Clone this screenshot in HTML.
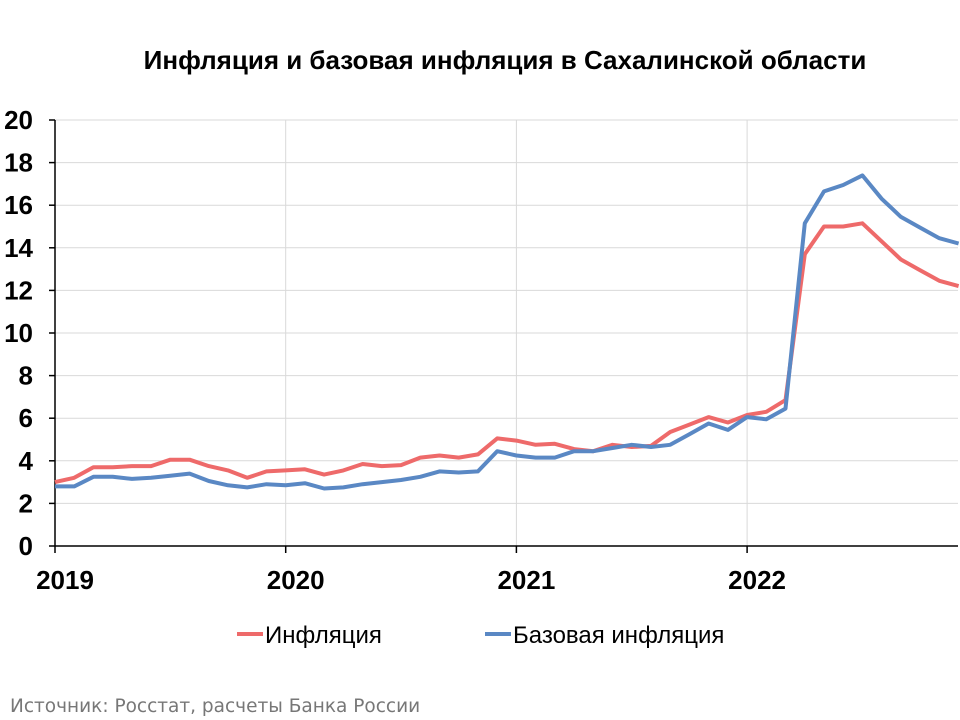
<!DOCTYPE html>
<html><head><meta charset="utf-8"><style>
body{margin:0;background:#fff;}
svg{display:block;font-family:"Liberation Sans",sans-serif;}
</style></head><body>
<svg id="chart" width="960" height="720">
<text x="505" y="69" text-anchor="middle" font-size="26" font-weight="bold">Инфляция и базовая инфляция в Сахалинской области</text>
<g id="grid"></g><g id="axes"></g><g id="series"></g>
<g>
<line x1="237" y1="634" x2="263" y2="634" stroke="#ee6a6a" stroke-width="4"/>
<text x="265" y="643" font-size="24">Инфляция</text>
<line x1="485" y1="634" x2="511" y2="634" stroke="#5a88c4" stroke-width="4"/>
<text x="513" y="643" font-size="24">Базовая инфляция</text>
</g>
<text x="10" y="712" font-size="18.5" fill="#777" font-family="DejaVu Sans, sans-serif">Источник: Росстат, расчеты Банка России</text>
</svg>
<script>
const years = ["2019","2020","2021","2022"];
const yTicks = [0,2,4,6,8,10,12,14,16,18,20];
const inflation = [3.0,3.2,3.7,3.7,3.75,3.75,4.05,4.05,3.75,3.55,3.2,3.5,3.55,3.6,3.35,3.55,3.85,3.75,3.8,4.15,4.25,4.15,4.3,5.05,4.95,4.75,4.8,4.55,4.45,4.75,4.65,4.7,5.35,5.7,6.05,5.8,6.15,6.3,6.85,13.7,15.0,15.0,15.15,14.3,13.45,12.95,12.45,12.2];
const coreInflation = [2.8,2.8,3.25,3.25,3.15,3.2,3.3,3.4,3.05,2.85,2.75,2.9,2.85,2.95,2.7,2.75,2.9,3.0,3.1,3.25,3.5,3.45,3.5,4.45,4.25,4.15,4.15,4.45,4.45,4.6,4.75,4.65,4.75,5.25,5.75,5.45,6.05,5.95,6.45,15.15,16.65,16.95,17.4,16.3,15.45,14.95,14.45,14.2];

const NS="http://www.w3.org/2000/svg";
const X0=55, MONTH=230.7/12, Y0=546, YMAX=20, YTOP=120;
const xm = i => X0 + i*MONTH;
const y = v => Y0 - (v/YMAX)*(Y0-YTOP);
function mk(tag, attrs, parent){const e=document.createElementNS(NS,tag);for(const k in attrs)e.setAttribute(k,attrs[k]);parent.appendChild(e);return e;}
const grid=document.getElementById('grid'), axes=document.getElementById('axes'), series=document.getElementById('series');
yTicks.forEach(t=>{
  if(t>0){const g=mk('line',{x1:X0,x2:958,y1:y(t),y2:y(t),stroke:'#d9d9d9','stroke-width':1},grid);
  
  }
  const tk=mk('line',{x1:X0-6,x2:X0,y1:y(t),y2:y(t),stroke:'#000','stroke-width':1.5},axes);
  
  
  const l=mk('text',{x:33,y:y(t)+9,'text-anchor':'end','font-size':26,'font-weight':'bold'},axes);
  l.textContent=t;
  
  
});
years.forEach((yr,i)=>{
  const xx=xm(i*12);
  if(i>0){const g=mk('line',{x1:xx,x2:xx,y1:YTOP,y2:Y0,stroke:'#d9d9d9','stroke-width':1},grid);
  
  }
  const tk=mk('line',{x1:xx,x2:xx,y1:Y0,y2:Y0+7,stroke:'#000','stroke-width':1.5},axes);
  
  
  const l=mk('text',{x:xx+10,y:589,'text-anchor':'middle','font-size':26,'font-weight':'bold'},axes);
  l.textContent=yr;
  
  
});
const ya=mk('line',{x1:X0,x2:X0,y1:YTOP,y2:Y0,stroke:'#000','stroke-width':1.5},axes);


const xa=mk('line',{x1:X0,x2:958,y1:Y0,y2:Y0,stroke:'#000','stroke-width':1.5},axes);


function draw(arr,color,name){
  const p=mk('polyline',{points:arr.map((v,i)=>xm(i).toFixed(1)+','+y(v).toFixed(1)).join(' '),fill:'none',stroke:color,'stroke-width':4,'stroke-linejoin':'round'},series);
  
  
}
draw(inflation,'#ee6a6a','inflation-line');
draw(coreInflation,'#5a88c4','core-inflation-line');
</script>
</body></html>
